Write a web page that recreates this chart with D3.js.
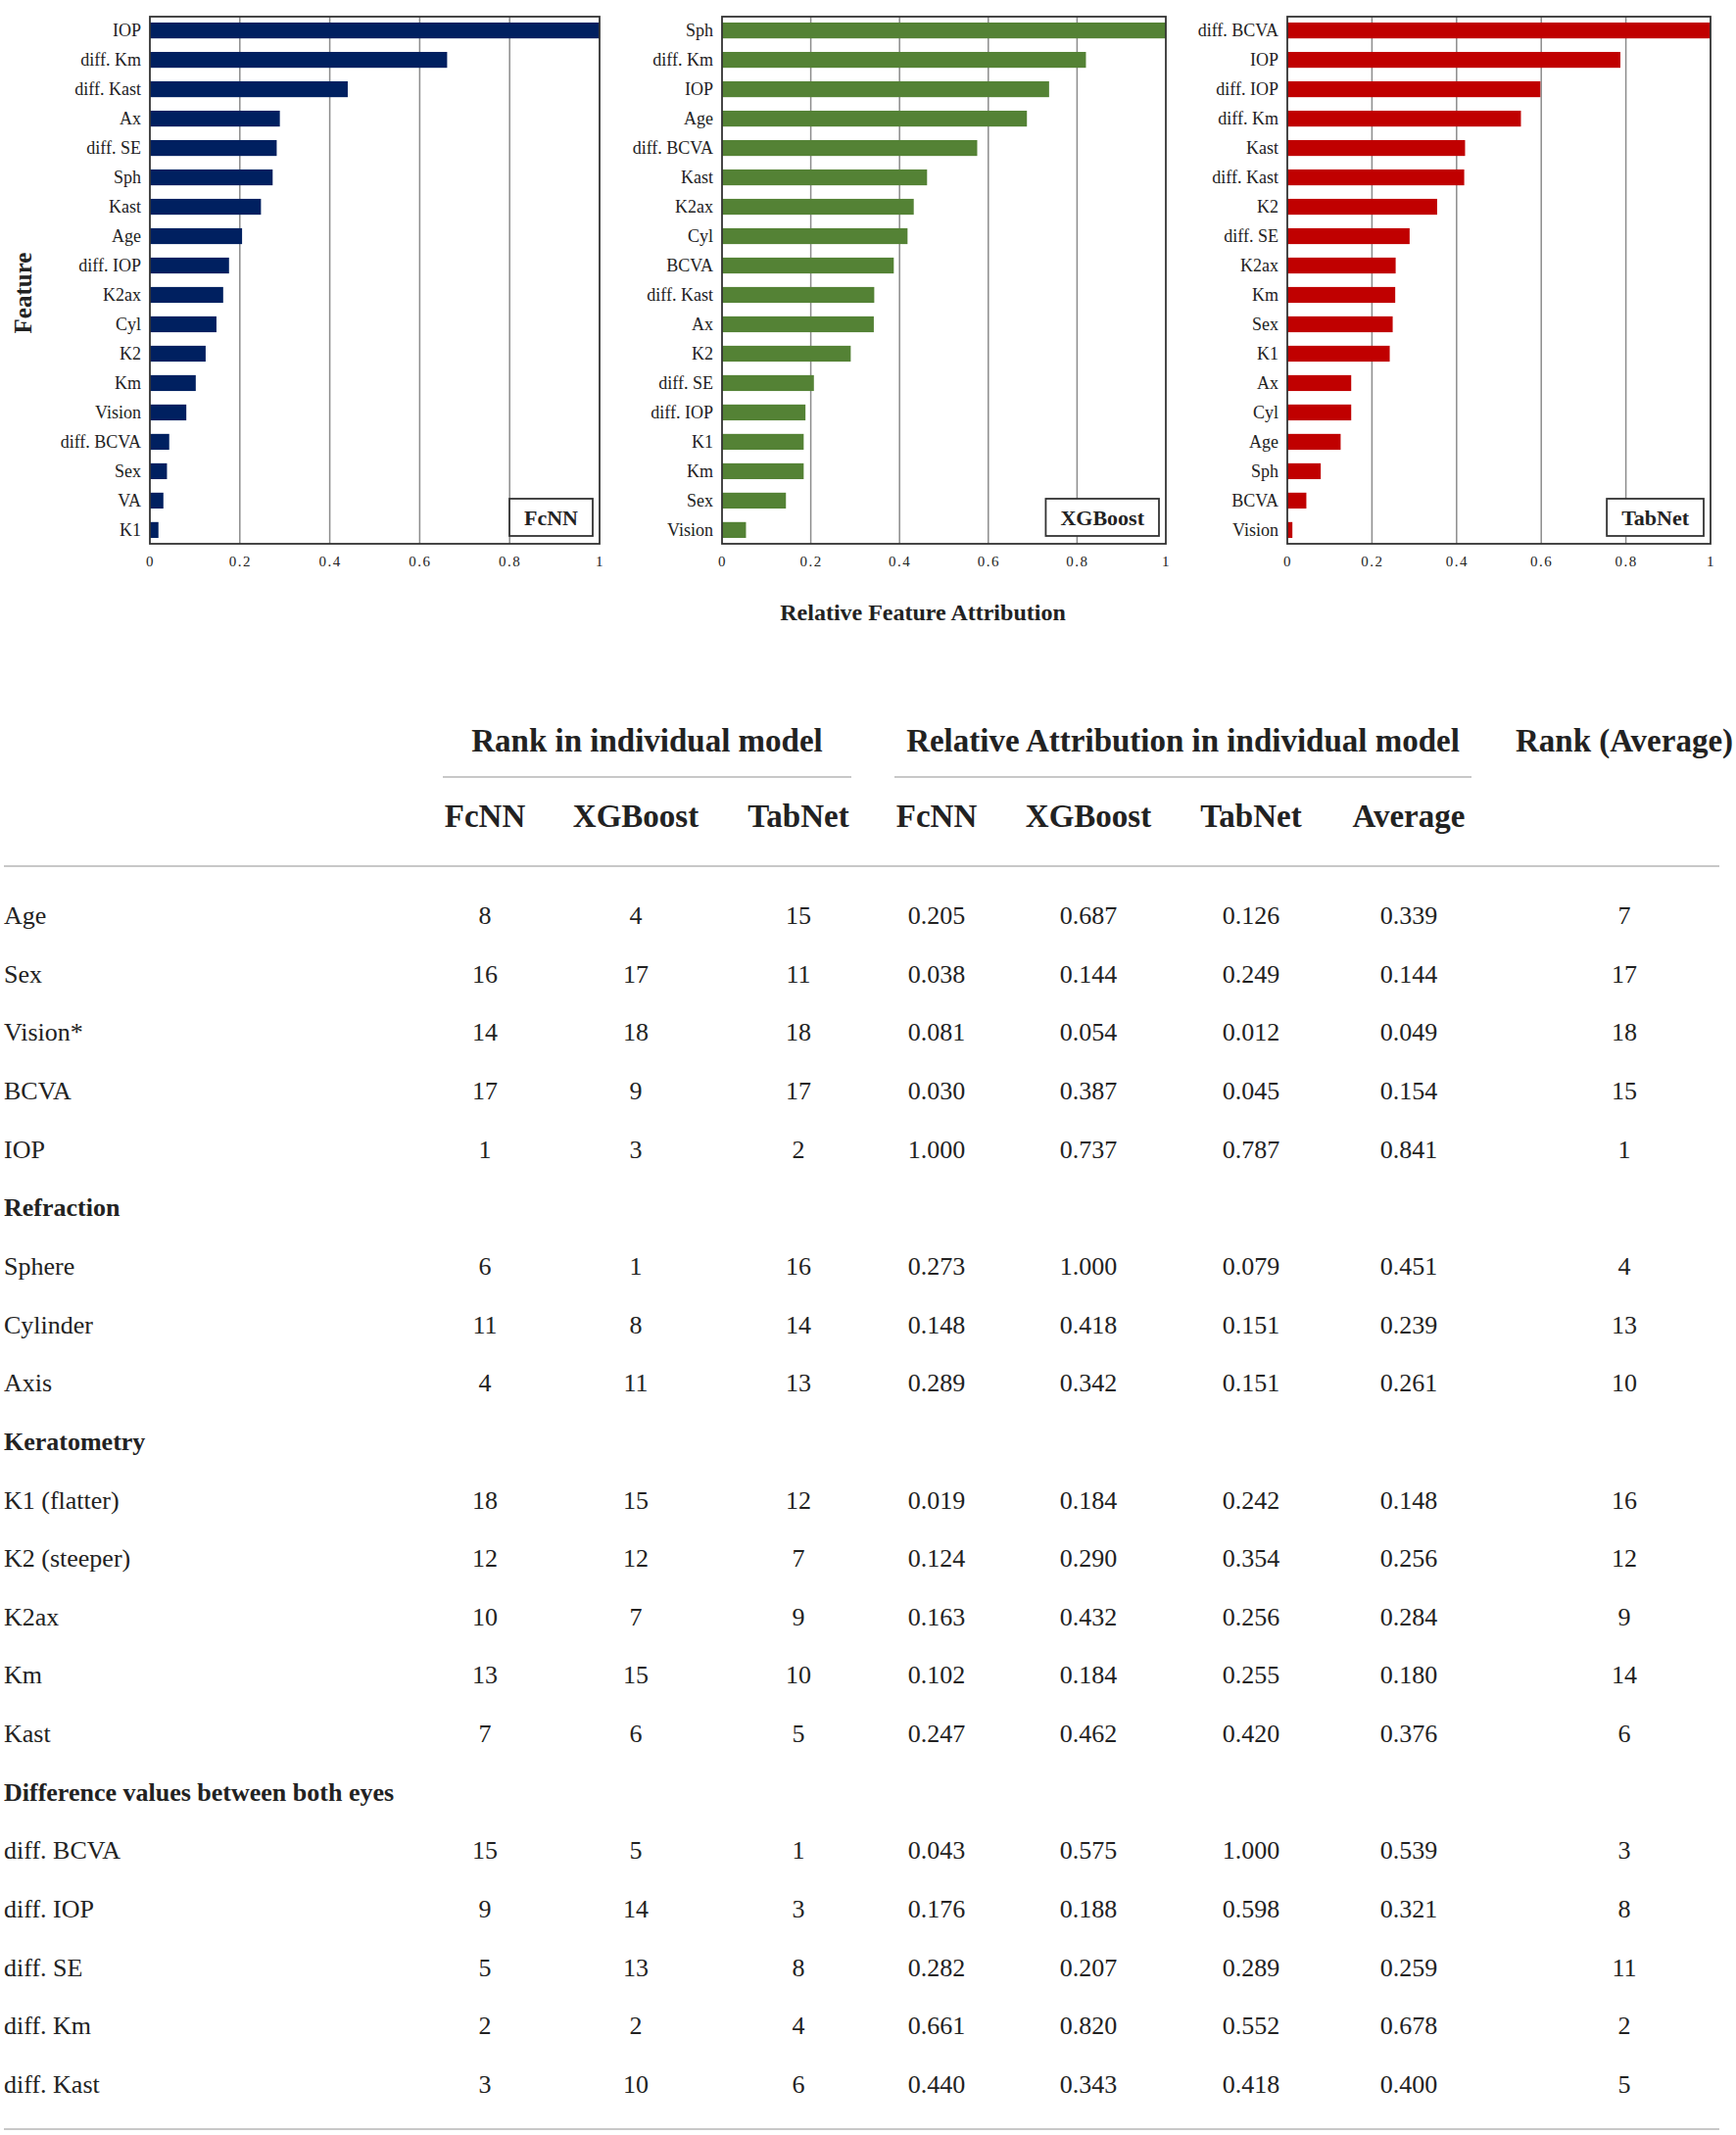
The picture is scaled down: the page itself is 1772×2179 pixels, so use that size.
<!DOCTYPE html>
<html>
<head>
<meta charset="utf-8">
<script src="https://cdn.jsdelivr.net/npm/d3@7"></script>
<style>
  body { margin: 0; background: #fff; }
  text { font-family: "Liberation Serif", "Times New Roman", serif; fill: #222; }
</style>
</head>
<body>
<svg id="drawing_region"></svg>
<script>
// ---- bar chart data (sorted as drawn) ----
const fcnnFeatures = ["IOP","diff. Km","diff. Kast","Ax","diff. SE","Sph","Kast","Age","diff. IOP","K2ax","Cyl","K2","Km","Vision","diff. BCVA","Sex","VA","K1"];
const fcnnValues   = [1.000,0.661,0.440,0.289,0.282,0.273,0.247,0.205,0.176,0.163,0.148,0.124,0.102,0.081,0.043,0.038,0.030,0.019];

const xgbFeatures = ["Sph","diff. Km","IOP","Age","diff. BCVA","Kast","K2ax","Cyl","BCVA","diff. Kast","Ax","K2","diff. SE","diff. IOP","K1","Km","Sex","Vision"];
const xgbValues   = [1.000,0.820,0.737,0.687,0.575,0.462,0.432,0.418,0.387,0.343,0.342,0.290,0.207,0.188,0.184,0.184,0.144,0.054];

const tabFeatures = ["diff. BCVA","IOP","diff. IOP","diff. Km","Kast","diff. Kast","K2","diff. SE","K2ax","Km","Sex","K1","Ax","Cyl","Age","Sph","BCVA","Vision"];
const tabValues   = [1.000,0.787,0.598,0.552,0.420,0.418,0.354,0.289,0.256,0.255,0.249,0.242,0.151,0.151,0.126,0.079,0.045,0.012];

const tickValues = [0, 0.2, 0.4, 0.6, 0.8, 1];

// ---- table data ----
const rowLabels = ["Age","Sex","Vision*","BCVA","IOP","Sphere","Cylinder","Axis","K1 (flatter)","K2 (steeper)","K2ax","Km","Kast","diff. BCVA","diff. IOP","diff. SE","diff. Km","diff. Kast"];
const rankFcNN  = [8,16,14,17,1,6,11,4,18,12,10,13,7,15,9,5,2,3];
const rankXGB   = [4,17,18,9,3,1,8,11,15,12,7,15,6,5,14,13,2,10];
const rankTab   = [15,11,18,17,2,16,14,13,12,7,9,10,5,1,3,8,4,6];
const attrFcNN  = ["0.205","0.038","0.081","0.030","1.000","0.273","0.148","0.289","0.019","0.124","0.163","0.102","0.247","0.043","0.176","0.282","0.661","0.440"];
const attrXGB   = ["0.687","0.144","0.054","0.387","0.737","1.000","0.418","0.342","0.184","0.290","0.432","0.184","0.462","0.575","0.188","0.207","0.820","0.343"];
const attrTab   = ["0.126","0.249","0.012","0.045","0.787","0.079","0.151","0.151","0.242","0.354","0.256","0.255","0.420","1.000","0.598","0.289","0.552","0.418"];
const attrAvg   = ["0.339","0.144","0.049","0.154","0.841","0.451","0.239","0.261","0.148","0.256","0.284","0.180","0.376","0.539","0.321","0.259","0.678","0.400"];
const rankAvg   = [7,17,18,15,1,4,13,10,16,12,9,14,6,3,8,11,2,5];
const sectionTitles = ["Refraction","Keratometry","Difference values between both eyes"];
const sectionStarts = [5, 8, 13];   // first data row of each section
const subHeaders = ["FcNN","XGBoost","TabNet","FcNN","XGBoost","TabNet","Average"];

const svg = d3.select("#drawing_region").attr("width", 1772).attr("height", 2179);

// ---------------- bar charts ----------------
const charts = [
  { name: "FcNN",    feats: fcnnFeatures, vals: fcnnValues, color: "#002060", left: 153,  right: 612 },
  { name: "XGBoost", feats: xgbFeatures,  vals: xgbValues,  color: "#548235", left: 737,  right: 1190 },
  { name: "TabNet",  feats: tabFeatures,  vals: tabValues,  color: "#c00000", left: 1314, right: 1746 }
];
const plotTop = 17, plotBottom = 555;

charts.forEach(c => {
  const g = svg.append("g");
  const x = d3.scaleLinear().domain([0, 1]).range([c.left, c.right]);
  const y = d3.scaleBand().domain(c.feats).range([plotTop, plotBottom])
    .paddingInner(0.46).paddingOuter(0.2).align(0.5);

  // grid
  g.selectAll("line.grid").data(tickValues.slice(1, -1)).enter().append("line")
    .attr("x1", d => x(d)).attr("x2", d => x(d))
    .attr("y1", plotTop).attr("y2", plotBottom)
    .attr("stroke", "#8c8c8c").attr("stroke-width", 1.5);

  // bars
  g.selectAll("rect.bar").data(c.vals).enter().append("rect")
    .attr("x", x(0))
    .attr("y", (d, i) => y(c.feats[i]))
    .attr("width", d => x(d) - x(0))
    .attr("height", y.bandwidth())
    .attr("fill", c.color);

  // frame
  g.append("rect").attr("x", c.left).attr("y", plotTop)
    .attr("width", c.right - c.left).attr("height", plotBottom - plotTop)
    .attr("fill", "none").attr("stroke", "#333").attr("stroke-width", 1.8);

  // feature labels
  g.selectAll("text.feat").data(c.feats).enter().append("text")
    .attr("x", c.left - 9)
    .attr("y", d => y(d) + y.bandwidth() / 2)
    .attr("dy", "0.35em")
    .attr("text-anchor", "end")
    .attr("font-size", 18)
    .text(d => d);

  // x axis ticks
  const xaxis = d3.axisBottom(x).tickValues(tickValues).tickSize(0).tickPadding(12)
    .tickFormat(d => d === 0 || d === 1 ? d3.format("d")(d) : d3.format(".1f")(d));
  const ax = g.append("g").attr("transform", `translate(0, ${plotBottom})`).call(xaxis);
  ax.select(".domain").remove();
  ax.selectAll("text").attr("font-size", 15).attr("letter-spacing", "1.5px")
    .style("font-family", "Liberation Serif").attr("fill", "#222");

  // model box
  const lbl = g.append("text")
    .attr("font-size", 22).attr("font-weight", "bold")
    .attr("text-anchor", "middle").text(c.name);
  const w = lbl.node().getComputedTextLength() + 30;
  const bx = c.right - 7 - w, by = plotBottom - 8 - 38;
  g.insert("rect", "text")
    .attr("x", bx).attr("y", by).attr("width", w).attr("height", 38)
    .attr("fill", "#fff").attr("stroke", "#333").attr("stroke-width", 1.8);
  lbl.attr("x", bx + w / 2).attr("y", by + 27);
});

svg.append("text").attr("x", 942).attr("y", 633)
  .attr("text-anchor", "middle").attr("font-size", 24).attr("font-weight", "bold")
  .text("Relative Feature Attribution");

svg.append("text").attr("transform", "translate(32, 299) rotate(-90)")
  .attr("text-anchor", "middle").attr("font-size", 25).attr("font-weight", "bold")
  .text("Feature");

// ---------------- table ----------------
const colKeys = ["rF","rX","rT","aF","aX","aT","aA","rA"];
const colX = d3.scaleOrdinal().domain(colKeys).range([495, 649, 815, 956, 1111, 1277, 1438, 1658]);
const colData = { rF: rankFcNN, rX: rankXGB, rT: rankTab, aF: attrFcNN, aX: attrXGB, aT: attrTab, aA: attrAvg, rA: rankAvg };

// build the line list: data rows plus section rows
const lines = [];
rowLabels.forEach((lab, i) => {
  const s = sectionStarts.indexOf(i);
  if (s >= 0) lines.push({ section: sectionTitles[s] });
  lines.push({ label: lab, idx: i });
});
const rowY = d3.scaleLinear().domain([0, lines.length - 1]).range([934, 2127]);

const t = svg.append("g");

// group headers
const groups = [
  { text: "Rank in individual model", x0: 452, x1: 869 },
  { text: "Relative Attribution in individual model", x0: 913, x1: 1502 },
  { text: "Rank (Average)", x0: 1550, x1: 1766, noLine: true }
];
groups.forEach(gr => {
  t.append("text").attr("x", (gr.x0 + gr.x1) / 2).attr("y", 767)
    .attr("text-anchor", "middle").attr("font-size", 33).attr("font-weight", "bold")
    .attr("fill", "#2a2a2a").text(gr.text);
  if (!gr.noLine)
    t.append("line").attr("x1", gr.x0).attr("x2", gr.x1).attr("y1", 793).attr("y2", 793)
      .attr("stroke", "#c8c8c8").attr("stroke-width", 2);
});

t.selectAll("text.sub").data(subHeaders).enter().append("text")
  .attr("x", (d, i) => colX(colKeys[i])).attr("y", 844)
  .attr("text-anchor", "middle").attr("font-size", 33).attr("font-weight", "bold")
  .attr("fill", "#2a2a2a").text(d => d);

t.append("line").attr("x1", 4).attr("x2", 1755).attr("y1", 884).attr("y2", 884)
  .attr("stroke", "#c8c8c8").attr("stroke-width", 2);
t.append("line").attr("x1", 4).attr("x2", 1755).attr("y1", 2173).attr("y2", 2173)
  .attr("stroke", "#c8c8c8").attr("stroke-width", 2);

lines.forEach((ln, k) => {
  const yy = rowY(k) + 9;
  if (ln.section) {
    t.append("text").attr("x", 4).attr("y", yy).attr("font-size", 26).attr("font-weight", "bold")
      .text(ln.section);
    return;
  }
  t.append("text").attr("x", 4).attr("y", yy).attr("font-size", 26).text(ln.label);
  colKeys.forEach(ck => {
    t.append("text").attr("x", colX(ck)).attr("y", yy)
      .attr("text-anchor", "middle").attr("font-size", 26)
      .text(colData[ck][ln.idx]);
  });
});
</script>
</body>
</html>
